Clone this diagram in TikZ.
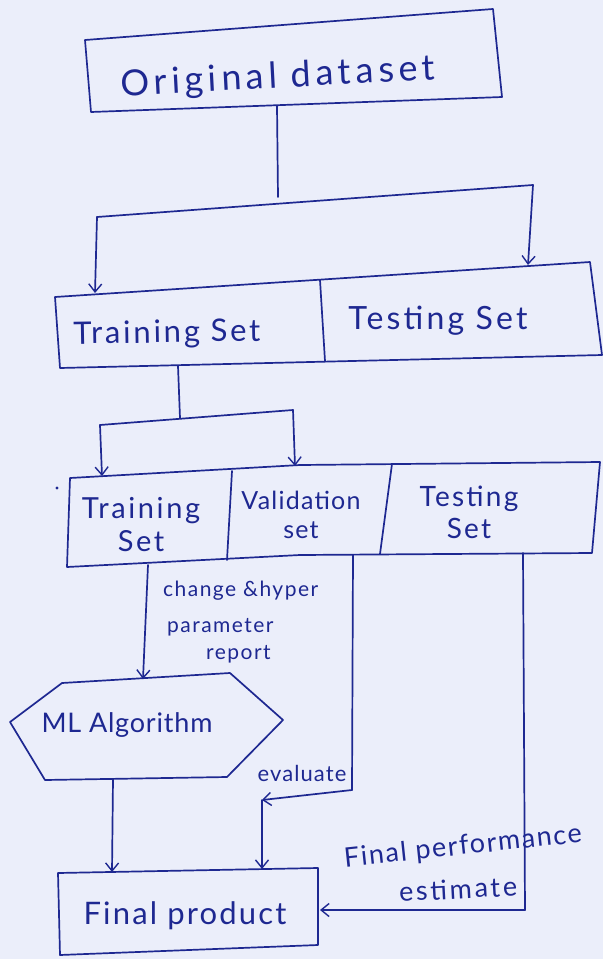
\documentclass[tikz,border=0pt]{standalone}
\usepackage{fontspec}
\setmainfont{Lato}
\usetikzlibrary{arrows.meta}
\definecolor{paper}{RGB}{235,238,250}
\definecolor{ink}{RGB}{30,40,145}
\begin{document}
\begin{tikzpicture}[x=1pt,y=-1pt,
  pen/.style={draw=ink, line width=1.7pt, line join=round, line cap=round},
  arr/.style={pen, -{Straight Barb[length=8pt,width=13pt,line width=1.4pt]}},
  lbl/.style={text=ink, inner sep=0pt, align=center},
  fs/.style n args={2}{font=\fontsize{#1}{#1}\selectfont\addfontfeature{LetterSpace=#2}}]
\fill[paper] (0,0) rectangle (603,959);
\useasboundingbox (0,0) rectangle (603,959);

% ---- Original dataset ----
\coordinate (o1) at (85,40);
\coordinate (o2) at (493,9);
\coordinate (o3) at (502,97);
\coordinate (o4) at (91,112);
\draw[pen] (o1) -- (o2) -- (o3) -- (o4) -- cycle;
\node[lbl, fs={36}{13}, rotate=3] (orig) at (278,78) {Original dataset};

% ---- first split ----
\coordinate (ob) at (277,106);
\coordinate (j1) at (278,197);
\coordinate (j1l) at (97,217);
\coordinate (j1r) at (533,185);
\coordinate (a1) at (55,297);
\coordinate (a2) at (590,262);
\coordinate (a3) at (602,355);
\coordinate (a4) at (60,368);
\coordinate (ad1) at (320,280);
\coordinate (ad2) at (325,361);
\coordinate (tipA1) at (95,293);
\coordinate (tipA2) at (528,265);
\draw[pen] (a1) -- (a2) -- (a3) -- (a4) -- cycle;
\draw[pen] (ad1) -- (ad2);
\draw[pen] (ob) -- (j1);
\draw[pen] (j1l) -- (j1r);
\draw[arr] (j1l) -- (tipA1);
\draw[arr] (j1r) -- (tipA2);
\node[lbl, fs={31}{9}, rotate=1] (trainA) at (167,334) {Training Set};
\node[lbl, fs={32}{10}] (testA) at (438,321) {Testing Set};

% ---- second split ----
\coordinate (ab) at (178,366);
\coordinate (j2) at (180,418);
\coordinate (j2l) at (100,425);
\coordinate (j2r) at (293,410);
\coordinate (b1) at (70,478);
\coordinate (bm) at (300,465);
\coordinate (b2) at (600,462);
\coordinate (b3) at (592,553);
\coordinate (bn) at (300,555);
\coordinate (b4) at (67,567);
\coordinate (bd1) at (232,471);
\coordinate (bd2) at (227,560);
\coordinate (bd3) at (392,464);
\coordinate (bd4) at (380,554);
\coordinate (tipB1) at (102,476);
\coordinate (tipB2) at (295,466);
\draw[pen] (b1) -- (bm) -- (b2) -- (b3) -- (bn) -- (b4) -- cycle;
\draw[pen] (bd1) -- (bd2);
\draw[pen] (bd3) -- (bd4);
\draw[pen] (ab) -- (j2);
\draw[pen] (j2l) -- (j2r);
\draw[arr] (j2l) -- (tipB1);
\draw[arr] (j2r) -- (tipB2);
\fill[ink] (57,488) circle (1.6pt);
\node[lbl, fs={29}{9}] (trainB) at (141,525) {Training\\[4pt]Set};
\node[lbl, fs={25}{5}] (valB) at (301,515) {Validation\\[4pt]set};
\node[lbl, fs={28}{8}] (testB) at (469,512) {Testing\\[4pt]Set};

% ---- ML Algorithm ----
\coordinate (h1) at (62,683);
\coordinate (h2) at (230,673);
\coordinate (h3) at (283,720);
\coordinate (h4) at (227,777);
\coordinate (h5) at (45,780);
\coordinate (h6) at (10,722);
\draw[pen] (h1) -- (h2) -- (h3) -- (h4) -- (h5) -- (h6) -- cycle;
\node[lbl, fs={27}{3}] (ml) at (127,725) {ML Algorithm};
\coordinate (trOut) at (148,565);
\coordinate (mlIn) at (143,679);
\draw[arr] (trOut) -- (mlIn);
\node[lbl, fs={21}{7}, anchor=west] (hp1) at (163,591) {change \&hyper};
\node[lbl, fs={21}{7}, anchor=west] (hp2) at (167,627) {parameter};
\node[lbl, fs={21}{7}, anchor=west] (hp3) at (206,654) {report};

% ---- Final product ----
\coordinate (f1) at (58,873);
\coordinate (f2) at (318,868);
\coordinate (f3) at (318,945);
\coordinate (f4) at (60,955);
\draw[pen] (f1) -- (f2) -- (f3) -- (f4) -- cycle;
\node[lbl, fs={31}{7}] (final) at (185,916) {Final product};
\coordinate (mlOut) at (113,779);
\coordinate (fpIn1) at (112,872);
\draw[arr] (mlOut) -- (fpIn1);

% validation result path
\coordinate (vTop) at (353,555);
\coordinate (vBot) at (352,790);
\coordinate (vCor) at (262,800);
\coordinate (fpIn2) at (262,869);
\draw[pen] (vTop) -- (vBot);
\draw[arr] (vBot) -- (vCor);
\draw[arr] (vCor) -- (fpIn2);
\node[lbl, fs={22}{5}] (eval) at (302,773) {evaluate};

% testing result path
\coordinate (tTop) at (523,553);
\coordinate (tBot) at (525,910);
\coordinate (fpIn3) at (320,910);
\draw[pen] (tTop) -- (tBot);
\draw[arr] (tBot) -- (fpIn3);
\node[lbl, fs={27}{6}, rotate=6] (perf) at (463,847) {Final performance};
\node[lbl, fs={27}{10}, rotate=3] (est) at (458,889) {estimate};
\end{tikzpicture}
\end{document}
